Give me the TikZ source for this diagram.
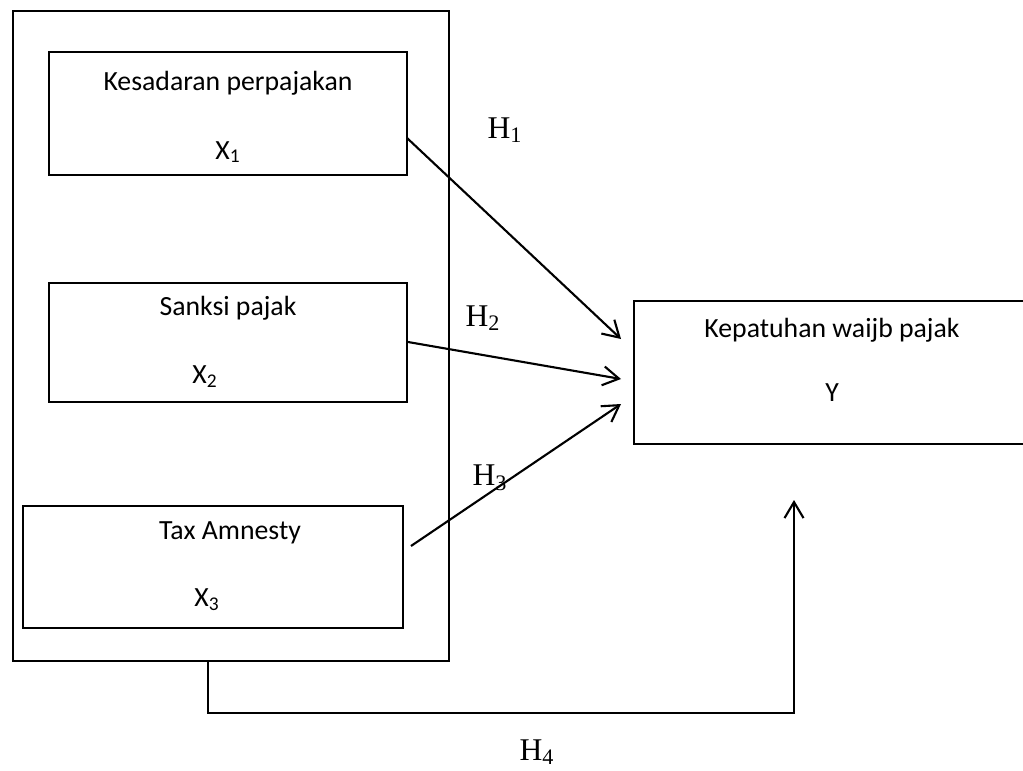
\documentclass[tikz,border=0pt]{standalone}
\usepackage{fontspec}
\setmainfont{Carlito}
\newfontfamily\timesfont{Liberation Serif}
\usetikzlibrary{arrows.meta}
\tikzset{
	box/.style={draw,line width=1.2pt,inner sep=0pt},
	thinbox/.style={draw,line width=0.7pt,inner sep=0pt},
	lbl/.style={font=\fontsize{15.8}{19}\selectfont},
	hyp/.style={font=\timesfont\fontsize{18}{21}\selectfont},
	link/.style={line width=1.2pt,-{Straight Barb[length=3.2mm,width=3.8mm]}}
}
\begin{document}
\begin{tikzpicture}[x=0.02cm,y=-0.02cm]
		\useasboundingbox (0,0) rectangle (1023,770);
		% boxes
		\node [box,minimum width=8.72cm,minimum height=13cm] (outer) at (231,336) {};
		\node [box,minimum width=7.16cm,minimum height=2.46cm] (x1) at (228,113.5) {};
		\node [thinbox,minimum width=7.16cm,minimum height=2.38cm] (x2) at (228,342.5) {};
		\node [thinbox,minimum width=7.6cm,minimum height=2.44cm] (x3) at (213,567) {};
		\node [box,minimum width=7.84cm,minimum height=2.86cm] (y) at (830,372.5) {};
		% texts
		\node [lbl] (x1name) at (228,83) {Kesadaran perpajakan};
		\node [lbl] (x1var) at (228,152) {X\textsubscript{1}};
		\node [lbl] (x2name) at (228,308) {Sanksi pajak};
		\node [lbl] (x2var) at (205,377) {X\textsubscript{2}};
		\node [lbl] (x3name) at (230,533) {Tax Amnesty};
		\node [lbl] (x3var) at (207,600) {X\textsubscript{3}};
		\node [lbl] (yname) at (832,330) {Kepatuhan waijb pajak};
		\node [lbl] (yvar) at (832,393) {Y};
		% connectors
		\coordinate (s1) at (407,138);
		\coordinate (s2) at (408,342);
		\coordinate (s3) at (411,546);
		\coordinate (t1) at (621,339);
		\coordinate (t2) at (621,379);
		\coordinate (t3) at (621,404);
		\coordinate (b4) at (208,661);
		\coordinate (c4) at (794,713);
		\coordinate (t4) at (794,500);
		\draw [link] (s1) -- (t1);
		\draw [link] (s2) -- (t2);
		\draw [link] (s3) -- (t3);
		\draw [link] (b4) |- (c4) -- (t4);
		% hypotheses
		\node [hyp] (h1) at (505,130) {H\textsubscript{1}};
		\node [hyp] (h2) at (483,318) {H\textsubscript{2}};
		\node [hyp] (h3) at (490,478) {H\textsubscript{3}};
		\node [hyp] (h4) at (537,752) {H\textsubscript{4}};
	\end{tikzpicture}
\end{document}
